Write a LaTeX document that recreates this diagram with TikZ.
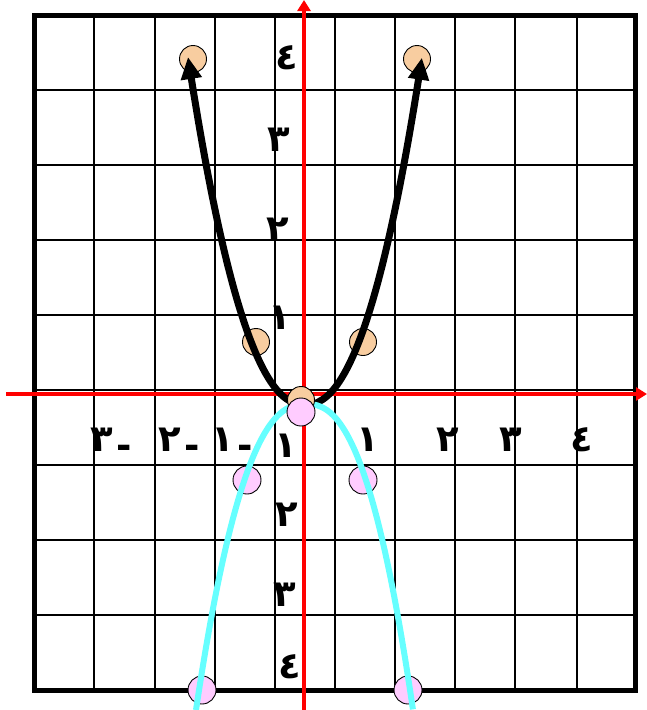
\documentclass[tikz,border=0pt]{standalone}
\usepackage{fontspec}
\usetikzlibrary{arrows.meta}
\TeXXeTstate=1
\newfontfamily\arabicfont[Script=Arabic]{DejaVu Sans}
\definecolor{peach}{RGB}{248,205,160}
\definecolor{pinkpt}{RGB}{255,204,255}
\definecolor{aqua}{RGB}{102,255,255}
\newcommand{\lowdash}{\raisebox{-0.2em}{-}}
\tikzset{
  gridline/.style={line width=2.6pt, black},
  frameline/.style={line width=5pt, black},
  axisline/.style={line width=4pt, red, -{Triangle[length=11pt,width=13pt]}},
  blackcurve/.style={line width=7pt, black, {Triangle[length=22pt,width=20pt]}-{Triangle[length=22pt,width=20pt]}},
  cyancurve/.style={line width=6pt, aqua},
  orangept/.style={circle, draw=black, line width=0.9pt, fill=peach, minimum size=27pt, inner sep=0pt},
  pinkpt/.style={circle, draw=black, line width=0.9pt, fill=pinkpt, minimum size=28pt, inner sep=0pt},
  lab/.style={font=\arabicfont\bfseries\fontsize{37}{37}\selectfont, inner sep=0pt},
  neglab/.style={lab, anchor=base}
}
\begin{document}
\begin{tikzpicture}[x=1pt, y=-1pt]
\useasboundingbox (0,0) rectangle (647,710);
% grid
\foreach \gx in {94,155,215,275,335,395,455,515,577}
  \draw[gridline] (\gx,15) -- (\gx,690);
\foreach \gy in {90,165,240,315,390,465,540,615}
  \draw[gridline] (34,\gy) -- (635,\gy);
\draw[frameline] (34,15) rectangle (635,690);
% axes
\coordinate (xs) at (6,394);
\coordinate (xe) at (647,394);
\coordinate (ys) at (304,710);
\coordinate (ye) at (304,0);
\draw[axisline] (xs) -- (xe);
\draw[axisline] (ys) -- (ye);
% labels on y axis
\node[lab] (ly4) at (287,58) {\beginR ٤\endR};
\node[lab] (ly3) at (279,140) {\beginR ٣\endR};
\node[lab] (ly2) at (278,230) {\beginR ٢\endR};
\node[lab] (ly1) at (280,318) {\beginR ١\endR};
\node[lab] (lyn1) at (286,446) {\beginR ١\endR};
\node[lab] (lyn2) at (287,515) {\beginR ٢\endR};
\node[lab] (lyn3) at (285,595) {\beginR ٣\endR};
\node[lab] (lyn4) at (290,667) {\beginR ٤\endR};
% labels on x axis
\node[neglab] (lxn3) at (111,451) {\beginR\lowdash\kern0.1em ٣\endR};
\node[neglab] (lxn2) at (179,451) {\beginR\lowdash\kern0.1em ٢\endR};
\node[neglab] (lxn1) at (232,451) {\beginR\lowdash\kern0.1em ١\endR};
\node[lab] (lx1) at (368,440) {\beginR ١\endR};
\node[lab] (lx2) at (448,440) {\beginR ٢\endR};
\node[lab] (lx3) at (511,440) {\beginR ٣\endR};
\node[lab] (lx4) at (582,440) {\beginR ٤\endR};
% orange points
\node[orangept] (oa) at (193,59) {};
\node[orangept] (ob) at (417,59) {};
\node[orangept] (oc) at (256,342) {};
\node[orangept] (od) at (363,342) {};
% black curve
\draw[blackcurve] plot[domain=-1:1, samples=120, smooth] ({305+117*\x}, {405-348*pow(abs(\x),2.2)});
% pink points
\node[pinkpt] (pa) at (247,480) {};
\node[pinkpt] (pb) at (363,480) {};
\node[pinkpt] (pc) at (202,690) {};
\node[pinkpt] (pd) at (408,690) {};
% cyan curve
\draw[cyancurve] plot[domain=-1:1, samples=120, smooth] ({306+\x*(\x<0?110:107)}, {404+306*pow(abs(\x),2.4)});
% origin points
\node[orangept] (oo) at (301,400) {};
\node[pinkpt] (po) at (301,412) {};
\end{tikzpicture}
\end{document}
